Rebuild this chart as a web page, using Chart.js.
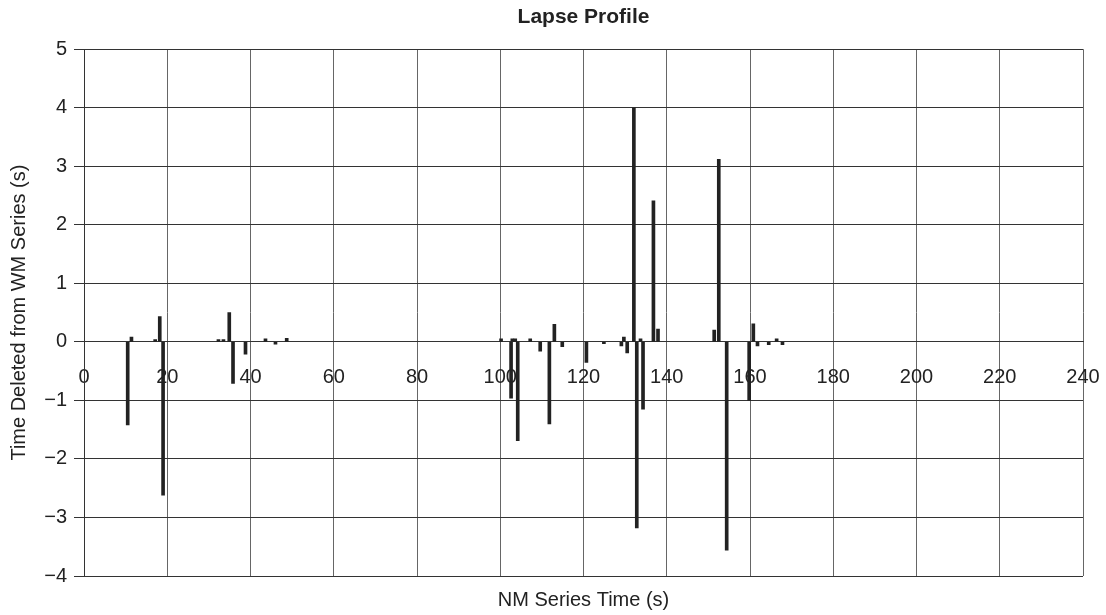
<!DOCTYPE html>
<html>
<head>
<meta charset="utf-8">
<title>Lapse Profile</title>
<script src="https://cdn.jsdelivr.net/npm/chart.js@4/dist/chart.umd.min.js"></script>
<style>
  html, body { margin: 0; padding: 0; background: #fff; }
  #box { width: 1106px; height: 615px; }
</style>
</head>
<body>
<div id="box"><canvas id="grafico"></canvas></div>
<script>
// tempo na serie NM (s)
var tempos = [10.5, 11.4, 17.1, 18.2, 19.0, 32.3, 33.5, 34.9, 35.8, 38.8, 43.6, 46.0, 48.7,
    100.2, 102.6, 102.9, 103.6, 104.2, 107.2, 109.6, 111.8, 113.0, 114.9, 120.7, 124.9,
    129.1, 129.7, 130.5, 132.1, 132.8, 133.7, 134.3, 136.8, 137.9,
    151.4, 152.5, 154.4, 159.8, 160.8, 161.8, 164.5, 166.4, 167.8]

// tempo apagado da serie WM (s)
var apagados = [-1.42, 0.08, 0.04, 0.43, -2.62, 0.04, 0.04, 0.50, -0.71, -0.21, 0.05, -0.04, 0.06,
    0.05, -0.96, 0.05, 0.05, -1.69, 0.05, -0.16, -1.40, 0.30, -0.08, -0.35, -0.03,
    -0.07, 0.08, -0.19, 4.0, -3.18, 0.05, -1.15, 2.41, 0.22,
    0.20, 3.12, -3.56, -1.0, 0.31, -0.07, -0.05, 0.05, -0.05]

var ticksX = [0, 20, 40, 60, 80, 100, 120, 140, 160, 180, 200, 220, 240]
var ticksY = [-4, -3, -2, -1, 0, 1, 2, 3, 4, 5]

var fonte = 'Liberation Sans, Arial, Helvetica, sans-serif'

var pontos = []
for (let i = 0; i < tempos.length; i++) {
    pontos.push({ x: tempos[i], y: apagados[i] })
}

const config = {
    type: 'bar',
    data: {
        datasets: [{
            label: 'Lapse',
            data: pontos,
            backgroundColor: '#222',
            borderWidth: 0,
            barThickness: 3
        }]
    },
    options: {
        responsive: true,
        maintainAspectRatio: false,
        animation: false,
        layout: { padding: { left: 0, right: 23, top: 0, bottom: 0 } },
        plugins: {
            legend: { display: false },
            tooltip: { enabled: false },
            title: {
                display: true,
                fullSize: false,
                text: 'Lapse Profile',
                color: '#222',
                font: { family: fonte, size: 21, weight: 'bold' },
                padding: { top: 5, bottom: 19 }
            },
            subtitle: {
                display: true,
                fullSize: false,
                position: 'bottom',
                text: 'NM Series Time (s)',
                color: '#222',
                font: { family: fonte, size: 20 },
                padding: { top: 12, bottom: 3 }
            }
        },
        scales: {
            x: {
                type: 'linear',
                position: { y: 0 },
                min: 0,
                max: 240,
                offset: false,
                afterBuildTicks: function (escala) {
                    escala.ticks = ticksX.map(v => ({ value: v }))
                },
                ticks: {
                    color: '#222',
                    font: { family: fonte, size: 20 },
                    padding: 0,
                    maxRotation: 0,
                    autoSkip: false
                },
                // marcas invisiveis so para afastar os rotulos da linha do zero
                grid: { color: '#666', lineWidth: 1, drawTicks: true, tickLength: 24, tickColor: 'rgba(0,0,0,0)', offset: false },
                border: { display: true, color: '#333' }
            },
            y: {
                min: -4,
                max: 5,
                afterBuildTicks: function (escala) {
                    escala.ticks = ticksY.map(v => ({ value: v }))
                },
                afterFit: function (escala) {
                    escala.width = 84
                },
                ticks: {
                    color: '#222',
                    font: { family: fonte, size: 20 },
                    padding: 7,
                    callback: function (v) {
                        return v < 0 ? '\u2212' + Math.abs(v) : '' + v
                    }
                },
                grid: { color: '#333', lineWidth: 1, tickLength: 10 },
                border: { display: true, color: '#333' },
                title: {
                    display: true,
                    text: 'Time Deleted from WM Series (s)',
                    color: '#222',
                    font: { family: fonte, size: 20 },
                    padding: { top: 7, bottom: 0 }
                }
            }
        }
    }
}

let myChart = new Chart(document.getElementById('grafico'), config)
</script>
</body>
</html>
